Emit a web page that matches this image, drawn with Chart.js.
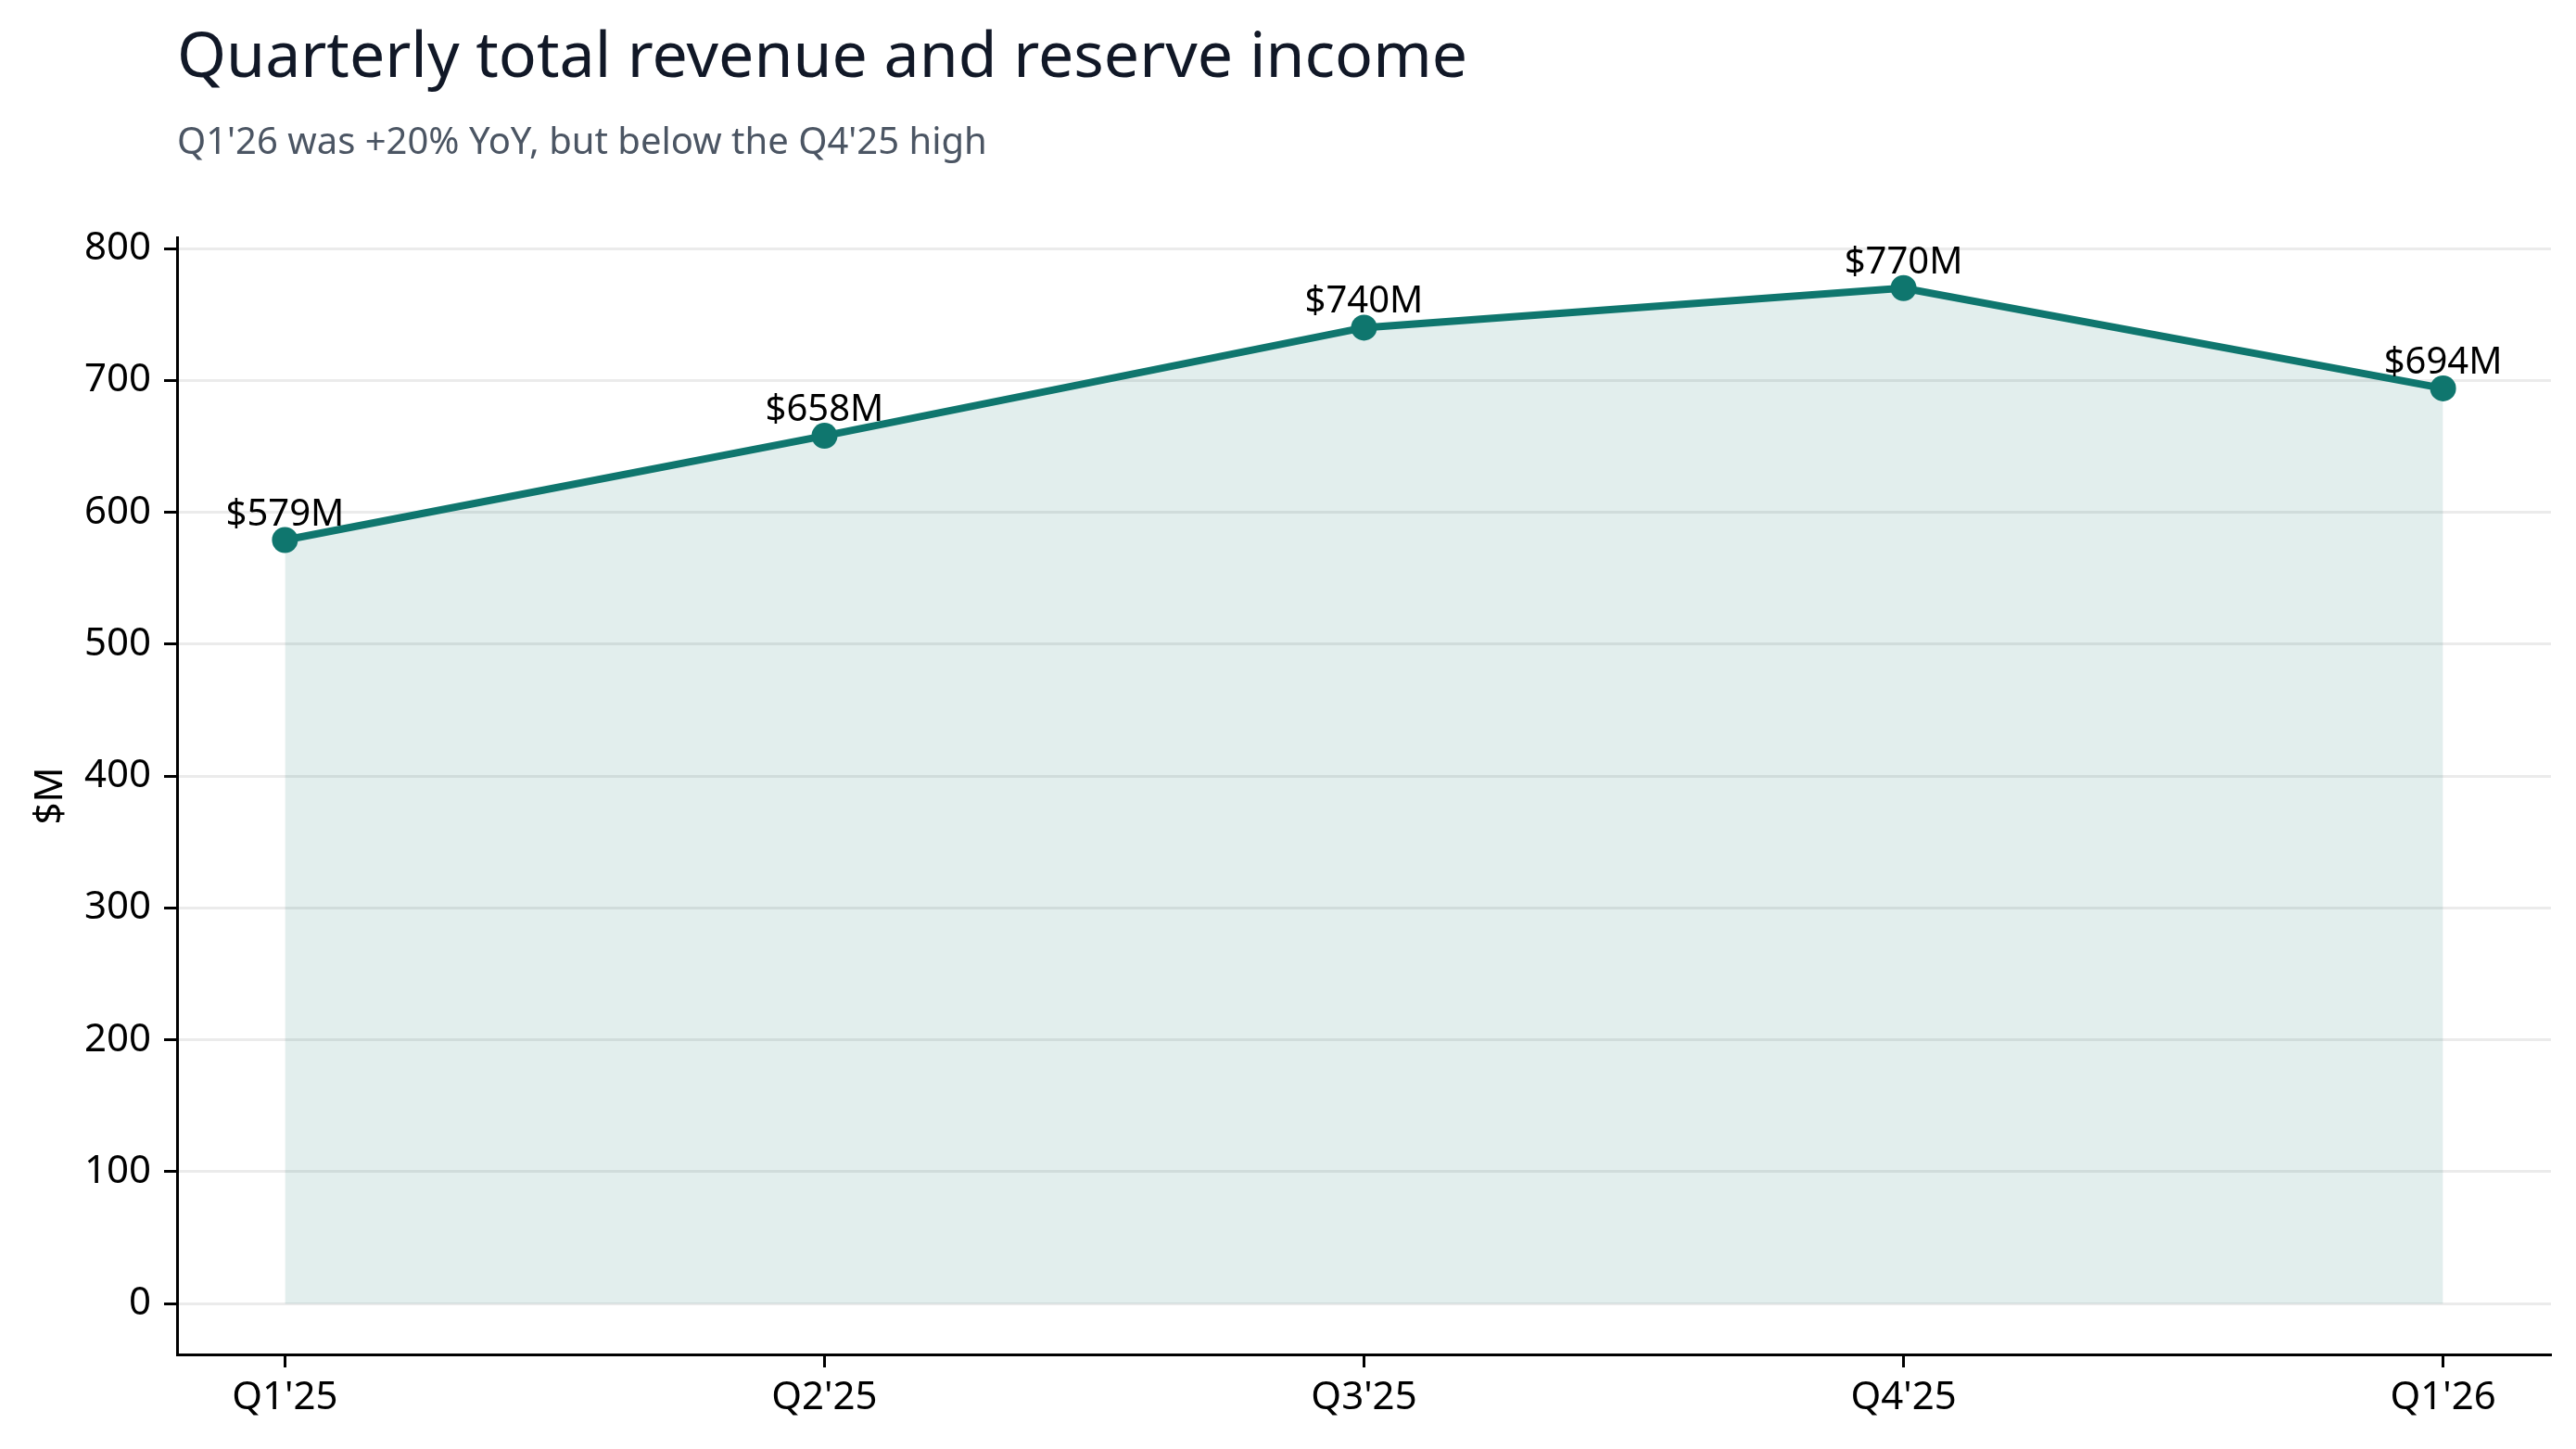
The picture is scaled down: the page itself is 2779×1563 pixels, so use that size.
<!DOCTYPE html>
<html>
<head>
<meta charset="utf-8">
<script src="https://cdn.jsdelivr.net/npm/chart.js@4.4.1/dist/chart.umd.min.js"></script>
<style>
  html, body { margin: 0; padding: 0; background: #fff; }
  body { width: 2779px; height: 1563px; position: relative; overflow: hidden; font-family: "Noto Sans", sans-serif; }
  #title { position: absolute; left: 191px; top: 23px; font-size: 68px; line-height: 1; color: #111827; white-space: nowrap; }
  #subtitle { position: absolute; left: 191px; top: 131px; font-size: 40px; line-height: 1; color: #4b5563; white-space: nowrap; }
  #wrap { position: absolute; left: 0; top: 0; width: 2779px; height: 1563px; }
</style>
</head>
<body>
<div id="wrap"><canvas id="revChart"></canvas></div>
<div id="title">Quarterly total revenue and reserve income</div>
<div id="subtitle">Q1'26 was +20% YoY, but below the Q4'25 high</div>
<script>
// data
const quarters = ["Q1'25", "Q2'25", "Q3'25", "Q4'25", "Q1'26"];
const revenue = [579, 658, 740, 770, 694];
const yTicks = [0, 100, 200, 300, 400, 500, 600, 700, 800];

const teal = '#0f766e';

// labels like "$579M" above each point
const pointLabels = {
    id: 'pointLabels',
    afterDatasetsDraw(chart) {
        const c = chart.ctx;
        const meta = chart.getDatasetMeta(0);
        c.save();
        c.font = '40px "Noto Sans"';
        c.fillStyle = '#000';
        c.textAlign = 'center';
        c.textBaseline = 'alphabetic';
        meta.data.forEach((pt, i) => {
            c.fillText('$' + revenue[i] + 'M', pt.x, pt.y - 16);
        });
        c.restore();
    }
};

new Chart(document.getElementById('revChart'), {
    type: 'line',
    data: {
        datasets: [{
            data: revenue.map((v, i) => ({ x: i, y: v })),
            borderColor: teal,
            borderWidth: 8,
            backgroundColor: 'rgba(15, 118, 110, 0.12)',
            fill: 'origin',
            pointRadius: 14,
            pointBackgroundColor: teal,
            pointBorderWidth: 0,
            tension: 0
        }]
    },
    options: {
        responsive: true,
        maintainAspectRatio: false,
        animation: false,
        layout: { padding: { left: 0, top: 256, right: 27, bottom: 0 } },
        plugins: {
            legend: { display: false },
            tooltip: { enabled: false }
        },
        scales: {
            x: {
                type: 'linear',
                min: -0.2,
                max: 4.2,
                afterBuildTicks: (ax) => { ax.ticks = quarters.map((q, i) => ({ value: i })); },
                afterFit: (ax) => { ax.height = 102; },
                ticks: {
                    callback: (v) => quarters[v],
                    color: '#000',
                    font: { family: 'Noto Sans', size: 42 },
                    padding: 8,
                    maxRotation: 0
                },
                grid: { drawOnChartArea: false, tickLength: 14, tickWidth: 3, tickColor: '#000' },
                border: { color: '#000', width: 3 }
            },
            y: {
                min: -38.5,
                max: 808.5,
                afterBuildTicks: (ax) => { ax.ticks = yTicks.map(v => ({ value: v })); },
                afterFit: (ax) => { ax.width = 191; },
                ticks: {
                    color: '#000',
                    font: { family: 'Noto Sans', size: 42 },
                    padding: 14
                },
                title: {
                    display: true,
                    text: '$M',
                    color: '#000',
                    font: { family: 'Noto Sans', size: 42 },
                    padding: { top: 30, bottom: 0 }
                },
                grid: { color: '#ebebeb', lineWidth: 3, tickLength: 14, tickWidth: 3, tickColor: '#000' },
                border: { color: '#000', width: 3 }
            }
        }
    },
    plugins: [pointLabels]
});
</script>
</body>
</html>
